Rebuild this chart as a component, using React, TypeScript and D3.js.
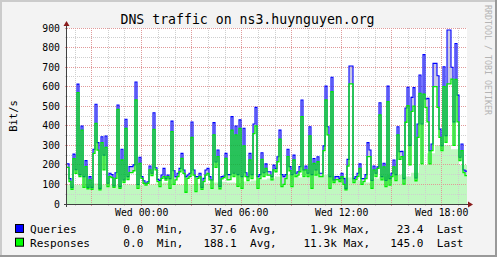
import React from "react";
import * as d3 from "d3";

// ---------- data ----------
// stacked top of queries (responses + queries), one value per 2px step
const queriesTop = [
  205,130,85,255,175,613,150,399,140,222,85,140,85,280,510,314,80,344,250,348,
  106,157,150,92,160,506,89,280,123,433,140,191,191,200,624,100,239,140,119,106,
  114,194,157,467,185,126,120,148,182,131,148,130,424,170,140,157,182,259,174,140,
  148,157,419,174,140,140,157,85,131,174,182,140,123,416,215,276,90,140,143,259,
  150,150,447,157,399,150,430,140,387,160,140,259,150,409,494,140,150,262,160,205,
  165,165,140,199,182,242,378,150,140,150,280,191,150,250,157,165,191,532,174,194,
  157,395,150,233,174,242,157,157,297,603,395,140,648,123,140,140,130,157,130,80,
  228,706,706,130,140,157,205,130,130,150,314,276,120,194,157,190,518,140,208,120,
  603,130,157,225,150,395,268,269,130,491,597,300,545,595,133,409,660,409,764,537,
  540,273,307,719,719,656,383,298,702,349,890,890,699,420,821,557,239,307,174,168,
];
const responses = [
  187,115,75,232,157,570,140,378,85,191,78,123,75,259,412,276,72,314,174,290,
  89,140,135,85,131,484,80,225,110,387,125,160,160,170,532,80,208,131,106,97,
  106,174,145,382,174,114,89,131,140,122,140,80,370,100,123,140,165,233,157,60,
  131,140,341,148,63,131,140,75,114,148,157,123,80,353,187,242,78,128,135,233,
  123,125,378,140,353,90,387,80,297,140,120,225,130,360,399,80,130,228,140,182,
  148,148,123,174,165,216,331,89,100,130,242,170,89,225,140,148,165,447,140,174,
  140,348,80,208,148,216,140,140,273,532,353,80,574,110,125,125,115,140,100,72,
  194,614,614,109,125,140,182,100,114,130,242,242,80,174,140,182,455,123,190,89,
  523,97,140,190,120,353,228,242,102,418,503,200,474,501,119,341,566,205,562,494,
  420,205,273,600,600,494,341,273,600,315,614,614,639,300,637,420,222,273,160,145,
];
// light green background area, one value per 8px block
const responsesBase = [
  100,98,102,105,100,98,97,100,98,97,
  100,105,110,100,98,102,105,105,110,114,
  110,108,115,120,125,130,140,150,145,135,
  150,157,150,145,140,135,120,110,130,140,
  150,150,140,160,200,260,300,300,280,200,
];

const yMax = 900;
const yMajor = d3.range(0, yMax + 1, 100);
const yMinor = d3.range(50, yMax, 100);
const startTime = Date.UTC(2008, 0, 1, 19, 31, 12);
const endTime = startTime + 24 * 3600 * 1000;

const title = "DNS traffic on ns3.huynguyen.org";
const yLabel = "Bit/s";
const watermark = "RRDTOOL / TOBI OETIKER";
const legendNames = ["Queries", "Responses"];
const legendColors = ["#0000ff", "#00ff00"];
const legendMin = ["0.0", "0.0"];
const legendAvg = ["37.6", "188.1"];
const legendMax = ["1.9k", "11.3k"];
const legendLast = ["23.4", "145.0"];

const FONT = "'DejaVu Sans Mono', monospace";
const W = 497;
const H = 257;

export default function App() {
  const X0 = 67, X1 = 467, YB = 204, YT = 28;
  const y = d3.scaleLinear().domain([0, yMax]).range([YB, YT]);
  const N = queriesTop.length;
  const xi = d3.scaleLinear().domain([0, N]).range([X0, X1]);
  const xb = d3.scaleLinear().domain([0, responsesBase.length]).range([X0, X1]);
  const xt = d3.scaleUtc().domain([startTime, endTime]).range([X0, X1]);

  const stepPts = (arr: number[]) =>
    [...arr.map((v, i) => [i, v] as [number, number]), [arr.length, arr[arr.length - 1]] as [number, number]];

  const line = d3.line<[number, number]>().x(d => xi(d[0])).y(d => y(d[1])).curve(d3.curveStepAfter);
  const baseArea = d3.area<[number, number]>().x(d => xb(d[0])).y0(YB).y1(d => y(d[1])).curve(d3.curveStepAfter);
  const idx = d3.range(N + 1);
  const gapArea = d3.area<number>()
    .x(i => xi(i))
    .y0(i => y(responses[Math.min(i, N - 1)]))
    .y1(i => y(queriesTop[Math.min(i, N - 1)]))
    .curve(d3.curveStepAfter);

  const hours = xt.ticks(d3.utcHour.every(1) as any);
  const fmt = d3.utcFormat("%a %H:%M");
  const px = (v: number) => Math.floor(v) + 0.5;

  const cw = 6.67;
  const lx = 30;
  const col = (c: number) => lx + c * cw;
  const rows = [233, 246.7];

  return (
    <svg width={W} height={H} style={{ position: "absolute", left: 0, top: 0, display: "block" }}
      xmlns="http://www.w3.org/2000/svg">
      <rect x={0} y={0} width={W} height={H} fill="#f3f3f3" />
      <rect x={0} y={0} width={W} height={2} fill="#cbcbcb" />
      <rect x={0} y={0} width={2} height={H} fill="#cbcbcb" />
      <rect x={0} y={H - 2} width={W} height={2} fill="#999999" />
      <rect x={W - 2} y={0} width={2} height={H} fill="#999999" />

      <rect x={X0} y={YT} width={X1 - X0} height={YB - YT} fill="#ffffff" />

      <path d={baseArea(stepPts(responsesBase)) || ""} fill="#c0f8c0" />
      <path d={gapArea(idx) || ""} fill="#c8c8e8" />

      {/* grid */}
      <g shapeRendering="crispEdges">
        {yMinor.map(v => (
          <g key={"ym" + v}>
            <line x1={X0} x2={X1} y1={px(y(v))} y2={px(y(v))} stroke="#cfcfcf" strokeDasharray="1 1" />
            <line x1={X0 - 2} x2={X0} y1={px(y(v))} y2={px(y(v))} stroke="#cfcfcf" />
          </g>
        ))}
        {hours.filter(h => h.getUTCHours() % 3 !== 0).map(h => (
          <g key={"xm" + +h}>
            <line x1={px(xt(h))} x2={px(xt(h))} y1={YT} y2={YB} stroke="#cfcfcf" strokeDasharray="1 1" />
            <line x1={px(xt(h))} x2={px(xt(h))} y1={YB} y2={YB + 2} stroke="#cfcfcf" />
          </g>
        ))}
        {yMajor.filter(v => v > 0).map(v => (
          <g key={"yM" + v}>
            <line x1={X0} x2={X1} y1={px(y(v))} y2={px(y(v))} stroke="#e09a9a" strokeDasharray="1 1" />
            <line x1={X0 - 2} x2={X0} y1={px(y(v))} y2={px(y(v))} stroke="#e09a9a" />
          </g>
        ))}
        {hours.filter(h => h.getUTCHours() % 3 === 0).map(h => (
          <g key={"xM" + +h}>
            <line x1={px(xt(h))} x2={px(xt(h))} y1={YT} y2={YB} stroke="#e09a9a" strokeDasharray="1 1" />
            <line x1={px(xt(h))} x2={px(xt(h))} y1={YB} y2={YB + 2} stroke="#e09a9a" />
          </g>
        ))}
      </g>

      {/* data lines */}
      <path d={line(stepPts(queriesTop)) || ""} fill="none" stroke="#0000ff" strokeWidth={1.1} />
      <path d={line(stepPts(responses)) || ""} fill="none" stroke="#00ee00" strokeWidth={1.3} />

      {/* axes */}
      <g shapeRendering="crispEdges">
        <line x1={X0 - 3} x2={X1 + 2} y1={YB + 0.5} y2={YB + 0.5} stroke="#404040" />
        <line x1={X0 - 0.5} x2={X0 - 0.5} y1={YB + 3} y2={YT - 3} stroke="#404040" />
      </g>
      <path d={`M${X1 + 1},${YB - 2.5} L${X1 + 1},${YB + 3.5} L${X1 + 6},${YB + 0.5} Z`} fill="#8a1c1c" />
      <path d={`M${X0 - 3.5},${YT - 2} L${X0 + 2.5},${YT - 2} L${X0 - 0.5},${YT - 7} Z`} fill="#8a1c1c" />

      {/* y tick labels */}
      {yMajor.map(v => (
        <text key={"yl" + v} x={60} y={y(v) + 3.5} textAnchor="end" fontFamily={FONT} fontSize={9.8} fill="#000">
          {v}
        </text>
      ))}
      {/* x tick labels */}
      {hours.filter(h => h.getUTCHours() % 6 === 0).map(h => (
        <text key={"xl" + +h} x={xt(h)} y={216} textAnchor="middle" fontFamily={FONT} fontSize={9.85} fill="#000">
          {fmt(h)}
        </text>
      ))}

      <text x={247.5} y={24} textAnchor="middle" fontFamily={FONT} fontSize={13.2} fill="#000">{title}</text>
      <text transform="translate(17,116) rotate(-90)" textAnchor="middle" fontFamily={FONT} fontSize={10.5} fill="#000">{yLabel}</text>
      <text transform="translate(485,5) rotate(90)" fontFamily={FONT} fontSize={8.3} fill="#b4b4b4"
        textLength={110} lengthAdjust="spacingAndGlyphs">{watermark}</text>

      {/* legend */}
      {legendNames.map((name, r) => (
        <g key={name} fontFamily={FONT} fontSize={11.08} fill="#000">
          <rect x={15.5} y={rows[r] - 8.5} width={8} height={8} fill={legendColors[r]} stroke="#000" strokeWidth={1} />
          <text x={col(0)} y={rows[r]}>{name}</text>
          <text x={col(17)} y={rows[r]} textAnchor="end">{legendMin[r]}</text>
          <text x={col(19)} y={rows[r]}>Min,</text>
          <text x={col(31)} y={rows[r]} textAnchor="end">{legendAvg[r]}</text>
          <text x={col(33)} y={rows[r]}>Avg,</text>
          <text x={col(46)} y={rows[r]} textAnchor="end">{legendMax[r]}</text>
          <text x={col(47)} y={rows[r]}>Max,</text>
          <text x={col(59)} y={rows[r]} textAnchor="end">{legendLast[r]}</text>
          <text x={col(61)} y={rows[r]}>Last</text>
        </g>
      ))}
    </svg>
  );
}
